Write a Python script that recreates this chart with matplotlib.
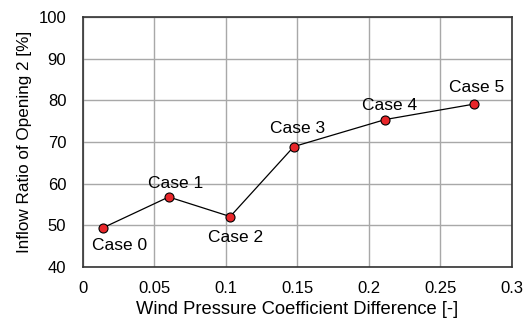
import matplotlib.pyplot as plt

plt.rcParams['font.family'] = ['Liberation Sans', 'DejaVu Sans']

# Datos
cp_diff = [0.014, 0.060, 0.103, 0.1475, 0.2115, 0.2735]
inflow = [49.4, 56.8, 52.1, 68.9, 75.4, 79.1]
labels = ['Case 0', 'Case 1', 'Case 2', 'Case 3', 'Case 4', 'Case 5']
offsets = [(12, -13), (5, 10), (4, -15), (3, 13), (3, 10), (2, 12)]

fig = plt.figure(figsize=(5.25, 3.22), dpi=100)
ax = fig.add_axes([0.158, 0.171, 0.817, 0.776])

ax.plot(cp_diff, inflow, color='black', lw=0.9, marker='o', ms=6.5,
        mfc='#e8262a', mec='black', mew=0.8, zorder=3)

for x, y, lab, off in zip(cp_diff, inflow, labels, offsets):
    ax.annotate(lab, (x, y), xytext=off, textcoords='offset points',
                ha='center', va='center', fontsize=12.5, zorder=4)

ax.set_xlim(0, 0.3)
ax.set_ylim(40, 100)
ax.set_xticks([0, 0.05, 0.1, 0.15, 0.2, 0.25, 0.3])
ax.set_xticklabels(['0', '0.05', '0.1', '0.15', '0.2', '0.25', '0.3'])
ax.set_yticks(range(40, 101, 10))
ax.grid(color='#a8a8a8', lw=1.0)
ax.set_axisbelow(True)
ax.tick_params(length=0, labelsize=12)
ax.tick_params(axis='x', pad=10)
ax.tick_params(axis='y', pad=12)
for s in ax.spines.values():
    s.set_color('#333333')
    s.set_linewidth(1.2)

ax.set_xlabel('Wind Pressure Coefficient Difference [-]', fontsize=13.2, labelpad=4)
ax.set_ylabel('Inflow Ratio of Opening 2 [%]', fontsize=12.3, labelpad=5)

fig.savefig('out.png', dpi=100)
